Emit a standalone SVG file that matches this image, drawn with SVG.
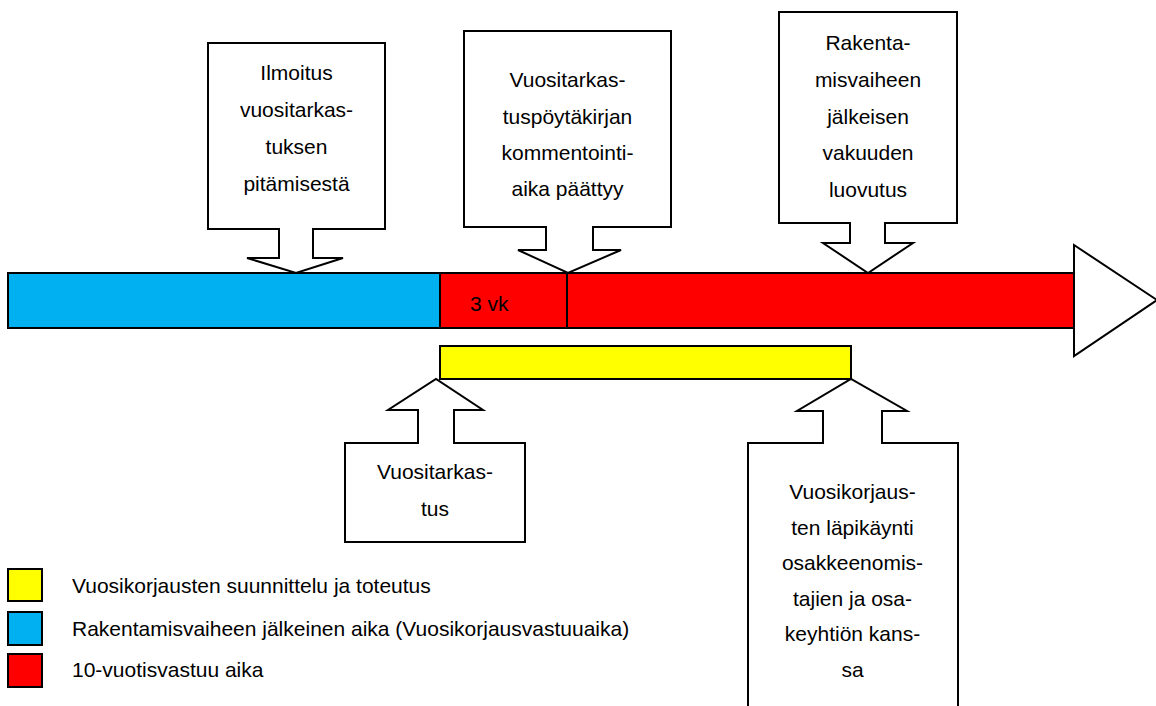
<svg xmlns="http://www.w3.org/2000/svg" width="1156" height="706" viewBox="0 0 1156 706">
  <style>
    .shape { fill: #FFFFFF; stroke: #000000; stroke-width: 2; stroke-linejoin: miter; }
    .bar { stroke: #000000; stroke-width: 2; }
    .blue { fill: #00B0F0; }
    .red { fill: #FF0000; }
    .yellow { fill: #FFFF00; }
    text { font-family: "Liberation Sans", Arial, sans-serif; font-size: 21px; fill: #000000; }
    .c { text-anchor: middle; }
  </style>

  <rect width="1156" height="706" fill="#FFFFFF"/>

  <!-- timeline bar -->
  <g id="timeline">
    <polygon class="shape" points="1074,245 1157,300 1074,356"/>
    <rect class="bar blue" x="8" y="273" width="432" height="55"/>
    <rect class="bar red" x="440" y="273" width="127" height="55"/>
    <rect class="bar red" x="567" y="273" width="507" height="55"/>
    <text x="470" y="311">3 vk</text>
  </g>

  <!-- annual repair period -->
  <g id="repair-period">
    <rect class="bar yellow" x="440" y="346" width="411" height="33"/>
  </g>

  <!-- callouts above the timeline -->
  <g id="notice">
    <path class="shape" d="M208,43 H385 V229 H313 V258 H343 L296,273 L247,258 H279 V229 H208 Z"/>
    <text class="c" x="296.5" y="80">Ilmoitus</text>
    <text class="c" x="296.5" y="117">vuositarkas-</text>
    <text class="c" x="296.5" y="154">tuksen</text>
    <text class="c" x="296.5" y="191">pitämisestä</text>
  </g>

  <g id="comment-deadline">
    <path class="shape" d="M464,31 H671 V227 H593 V250 H621 L568,273 L518,250 H546 V227 H464 Z"/>
    <text class="c" x="567.5" y="87">Vuositarkas-</text>
    <text class="c" x="567.5" y="124">tuspöytäkirjan</text>
    <text class="c" x="567.5" y="160">kommentointi-</text>
    <text class="c" x="567.5" y="196">aika päättyy</text>
  </g>

  <g id="guarantee-release">
    <path class="shape" d="M779,12 H957 V223 H885 V243 H913 L868,273 L823,243 H850 V223 H779 Z"/>
    <text class="c" x="868" y="50">Rakenta-</text>
    <text class="c" x="868" y="87">misvaiheen</text>
    <text class="c" x="868" y="124">jälkeisen</text>
    <text class="c" x="868" y="160">vakuuden</text>
    <text class="c" x="868" y="197">luovutus</text>
  </g>

  <!-- callouts below the timeline -->
  <g id="inspection">
    <path class="shape" d="M345,542 V443 H418 V410 H388 L436,379 L483,410 H454 V443 H525 V542 Z"/>
    <text class="c" x="435" y="479">Vuositarkas-</text>
    <text class="c" x="435" y="516">tus</text>
  </g>

  <g id="repair-review">
    <path class="shape" d="M748,720 V443 H823 V411 H797 L851,379 L907,411 H882 V443 H958 V720 Z"/>
    <text class="c" x="852.5" y="499">Vuosikorjaus-</text>
    <text class="c" x="852.5" y="535">ten läpikäynti</text>
    <text class="c" x="852.5" y="570">osakkeenomis-</text>
    <text class="c" x="852.5" y="606">tajien ja osa-</text>
    <text class="c" x="852.5" y="641">keyhtiön kans-</text>
    <text class="c" x="852.5" y="677">sa</text>
  </g>

  <!-- legend -->
  <g id="legend">
    <rect class="bar yellow" x="8" y="569" width="34" height="32"/>
    <rect class="bar blue" x="8" y="612" width="34" height="33"/>
    <rect class="bar red" x="8" y="654" width="34" height="33"/>
    <text x="72" y="593">Vuosikorjausten suunnittelu ja toteutus</text>
    <text x="72" y="636">Rakentamisvaiheen jälkeinen aika (Vuosikorjausvastuuaika)</text>
    <text x="72" y="677">10-vuotisvastuu aika</text>
  </g>
</svg>
